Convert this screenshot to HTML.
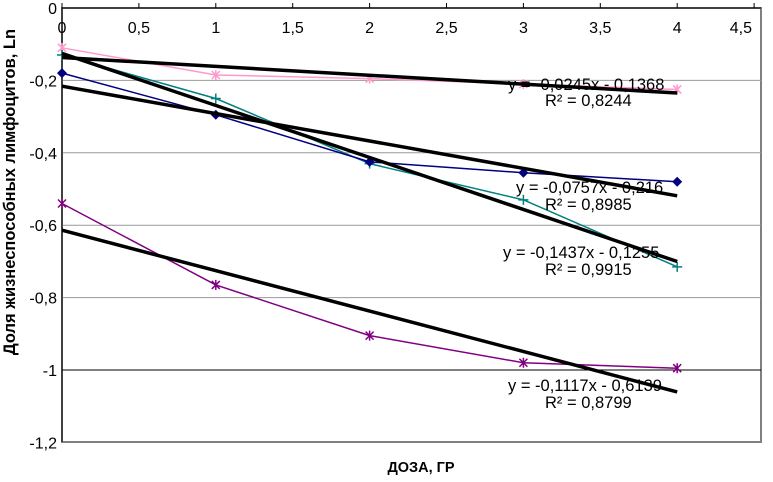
<!DOCTYPE html>
<html><head><meta charset="utf-8"><style>
body{margin:0;background:#fff}
svg text{font-family:"Liberation Sans",sans-serif}
</style></head><body>
<svg width="773" height="477" viewBox="0 0 773 477">
<g id="grid"></g>
<g id="series"></g>
<g id="trends"></g>
<g id="labels"></g>
<text x="421" y="472" font-size="14.5" font-weight="bold" text-anchor="middle">ДОЗА, ГР</text>
<text transform="translate(15,192) rotate(-90)" font-size="16.5" font-weight="bold" text-anchor="middle">Доля жизнеспособных лимфоцитов, Ln</text>
<g font-size="16.5">
<text x="508" y="90">y = -0,0245x - 0,1368</text><text x="545" y="106">R² = 0,8244</text>
<text x="516" y="193">y = -0,0757x - 0,216</text><text x="545" y="210">R² = 0,8985</text>
<text x="503" y="258">y = -0,1437x - 0,1255</text><text x="545" y="275">R² = 0,9915</text>
<text x="508" y="391">y = -0,1117x - 0,6139</text><text x="545" y="408">R² = 0,8799</text>
</g>
</svg>
<script>
const xTicks=["0","0,5","1","1,5","2","2,5","3","3,5","4","4,5"];
const yTicks=["0","-0,2","-0,4","-0,6","-0,8","-1","-1,2"];
const doses=[0,1,2,3,4];
const pinkVals=[-0.11,-0.185,-0.195,-0.21,-0.225];
const blueVals=[-0.18,-0.295,-0.425,-0.455,-0.48];
const tealVals=[-0.13,-0.25,-0.43,-0.53,-0.715];
const purpleVals=[-0.54,-0.765,-0.905,-0.98,-0.995];
const slopes=[-0.0245,-0.0757,-0.1437,-0.1117];
const intercepts=[-0.1368,-0.216,-0.1255,-0.6139];
const NS="http://www.w3.org/2000/svg";
const X=v=>62+v*153.8, Y=v=>8-v*362;
function mk(t,a,p){const e=document.createElementNS(NS,t);for(const k in a)e.setAttribute(k,a[k]);p.appendChild(e);return e;}
const grid=document.getElementById('grid'),lab=document.getElementById('labels');
const bg=mk('rect',{x:62,y:8,width:699,height:434,fill:'#fff',stroke:'#808080','stroke-width':2},grid);


yTicks.forEach((t,i)=>{const v=-0.2*i;
 if(i>0&&i<6){const l=mk('line',{x1:62,x2:761,y1:Y(v),y2:Y(v),stroke:i==5?'#000':'#999','stroke-width':1},grid);
 
 }
 const tx=mk('text',{x:57,y:Y(v)+6,'font-size':16,'text-anchor':'end'},lab);tx.textContent=t;
 
 });
mk('line',{x1:62,x2:761,y1:8,y2:8,stroke:'#000'},grid);
mk('line',{x1:62,x2:62,y1:8,y2:442,stroke:'#000'},grid);
xTicks.forEach((t,i)=>{const v=0.5*i;
 mk('line',{x1:X(v),x2:X(v),y1:8,y2:3,stroke:'#000'},grid);
 const last=i==xTicks.length-1;
 const tx=mk('text',{x:last?752:X(v),y:33,'font-size':16,'text-anchor':last?'end':'middle'},lab);tx.textContent=t;
 
 });
const sg=document.getElementById('series');
function series(vals,color,marker,name){
 const p=mk('polyline',{points:doses.map((d,i)=>X(d)+','+Y(vals[i])).join(' '),fill:'none',stroke:color,'stroke-width':1.5},sg);
 
 
 doses.forEach((d,i)=>{const x=X(d),y=Y(vals[i]);let m;
  if(marker=='d')m=mk('path',{d:`M${x} ${y-5}L${x+5} ${y}L${x} ${y+5}L${x-5} ${y}Z`,fill:color},sg);
  else if(marker=='+')m=mk('path',{d:`M${x-5} ${y}H${x+5}M${x} ${y-5}V${y+5}`,stroke:color,'stroke-width':1.5},sg);
  else m=mk('path',{d:`M${x-4} ${y-4}L${x+4} ${y+4}M${x-4} ${y+4}L${x+4} ${y-4}M${x} ${y-5}V${y+5}`,stroke:color,'stroke-width':1.5},sg);
  
  });
}
series(pinkVals,'#ff99cc','*','series-pink');
series(tealVals,'#008080','+','series-teal');
series(blueVals,'#000080','d','series-blue');
series(purpleVals,'#800080','*','series-purple');
const tg=document.getElementById('trends');
slopes.forEach((s,i)=>{const l=mk('line',{x1:X(0),y1:Y(intercepts[i]),x2:X(4),y2:Y(s*4+intercepts[i]),stroke:'#000','stroke-width':3.5},tg);
 
 });
</script>
</body></html>
